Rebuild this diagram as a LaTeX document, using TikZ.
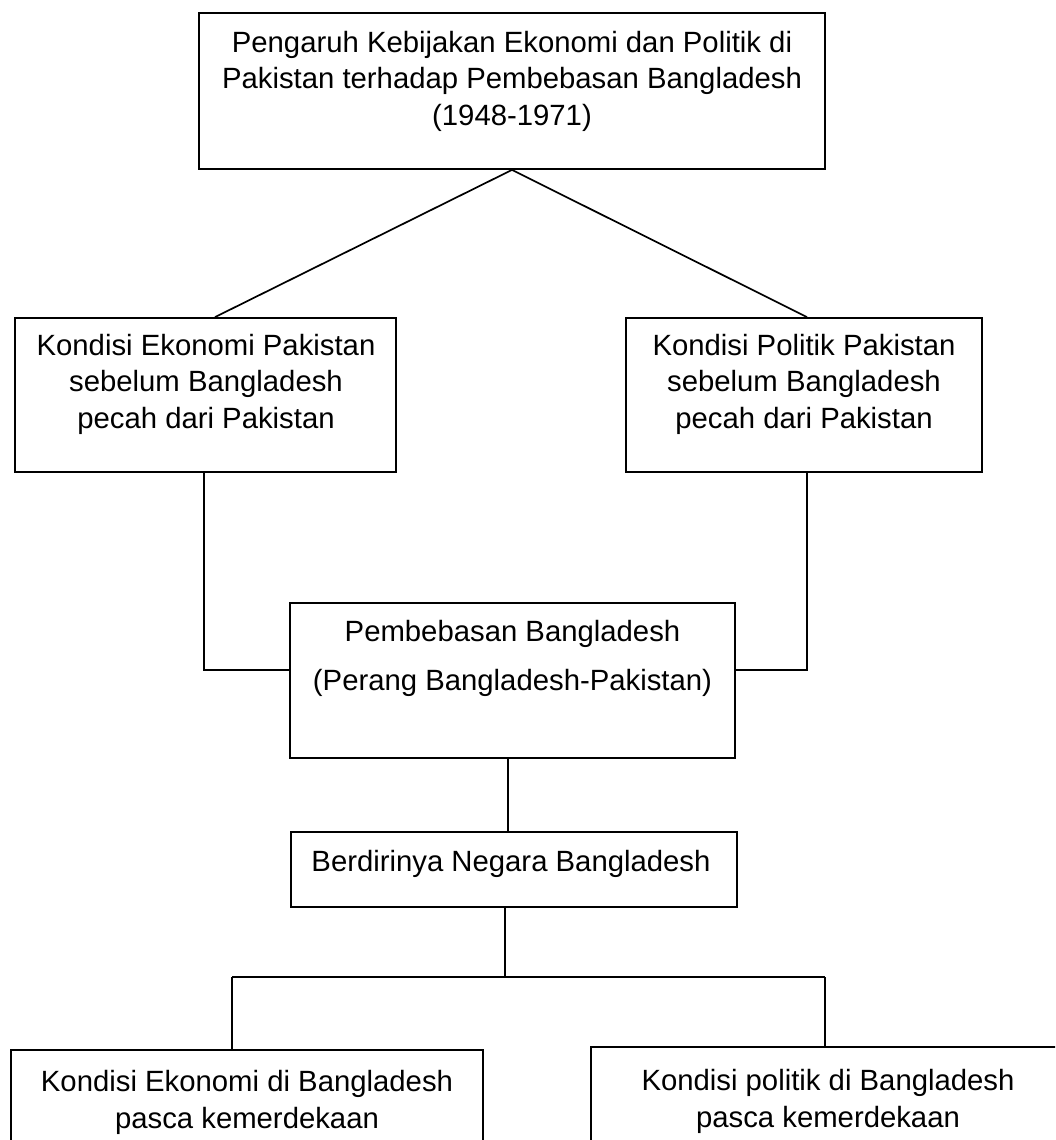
\documentclass[tikz,border=0pt]{standalone}
\usepackage{fontspec}
\setmainfont{Liberation Sans}
\tikzset{
  kotak/.style 2 args={draw, line width=1.8pt, minimum width=#1, minimum height=#2, inner sep=0pt},
  teks/.style={align=center, anchor=base, inner sep=0pt, font=\fontsize{29.3}{36.5}\selectfont},
  garis/.style={line width=1.7pt}
}
\begin{document}
\begin{tikzpicture}[x=1pt,y=-1pt]
  \useasboundingbox (0,0) rectangle (1055,1140);
  \clip (0,0) rectangle (1055,1140);
  % kotak
  \node[kotak={626pt}{156pt}] (judul) at (512,91) {};
  \node[kotak={381pt}{154pt}] (ekopak) at (205.5,395) {};
  \node[kotak={356pt}{154pt}] (polpak) at (804,395) {};
  \node[kotak={445pt}{155pt}] (bebas) at (512.5,680.5) {};
  \node[kotak={446pt}{75pt}] (negara) at (514,869.5) {};
  \node[kotak={472pt}{120pt}] (ekobd) at (247,1110) {};
  \node[kotak={489pt}{123pt}] (polbd) at (835.5,1108.5) {};
  % teks (base = baris terakhir)
  \node[teks] (tjudul) at (512,125) {Pengaruh Kebijakan Ekonomi dan Politik di\\Pakistan terhadap Pembebasan Bangladesh\\(1948-1971)};
  \node[teks] (tekopak) at (206,428) {Kondisi Ekonomi Pakistan\\sebelum Bangladesh\\pecah dari Pakistan};
  \node[teks] (tpolpak) at (804,428) {Kondisi Politik Pakistan\\sebelum Bangladesh\\pecah dari Pakistan};
  \node[teks, font=\fontsize{29.3}{49}\selectfont] (tbebas) at (512.5,690) {Pembebasan Bangladesh\\(Perang Bangladesh-Pakistan)};
  \node[teks] (tnegara) at (511,871) {Berdirinya Negara Bangladesh};
  \node[teks] (tekobd) at (247,1128) {Kondisi Ekonomi di Bangladesh\\pasca kemerdekaan};
  \node[teks] (tpolbd) at (828,1127) {Kondisi politik di Bangladesh\\pasca kemerdekaan};
  % garis
  \draw[garis] ([xshift=9.5pt]ekopak.north) -- (judul.south) -- ([xshift=3pt]polpak.north);
  \draw[garis] ([xshift=-1.5pt]ekopak.south) |- ([yshift=10.5pt]bebas.west);
  \draw[garis] ([xshift=3pt]polpak.south) |- ([yshift=10.5pt]bebas.east);
  \draw[garis] ([xshift=-4.5pt]bebas.south) -- ([xshift=-4.5pt]bebas.south |- negara.north);
  \coordinate (cabang) at (505,977);
  \coordinate (kiri) at (232,977);
  \coordinate (kanan) at (825,977);
  \draw[garis] ([xshift=-9pt]negara.south) -- (cabang);
  \draw[garis] (kiri) -- (kanan);
  \draw[garis] (kiri) -- (kiri |- ekobd.north);
  \draw[garis] (kanan) -- (kanan |- polbd.north);
\end{tikzpicture}
\end{document}
